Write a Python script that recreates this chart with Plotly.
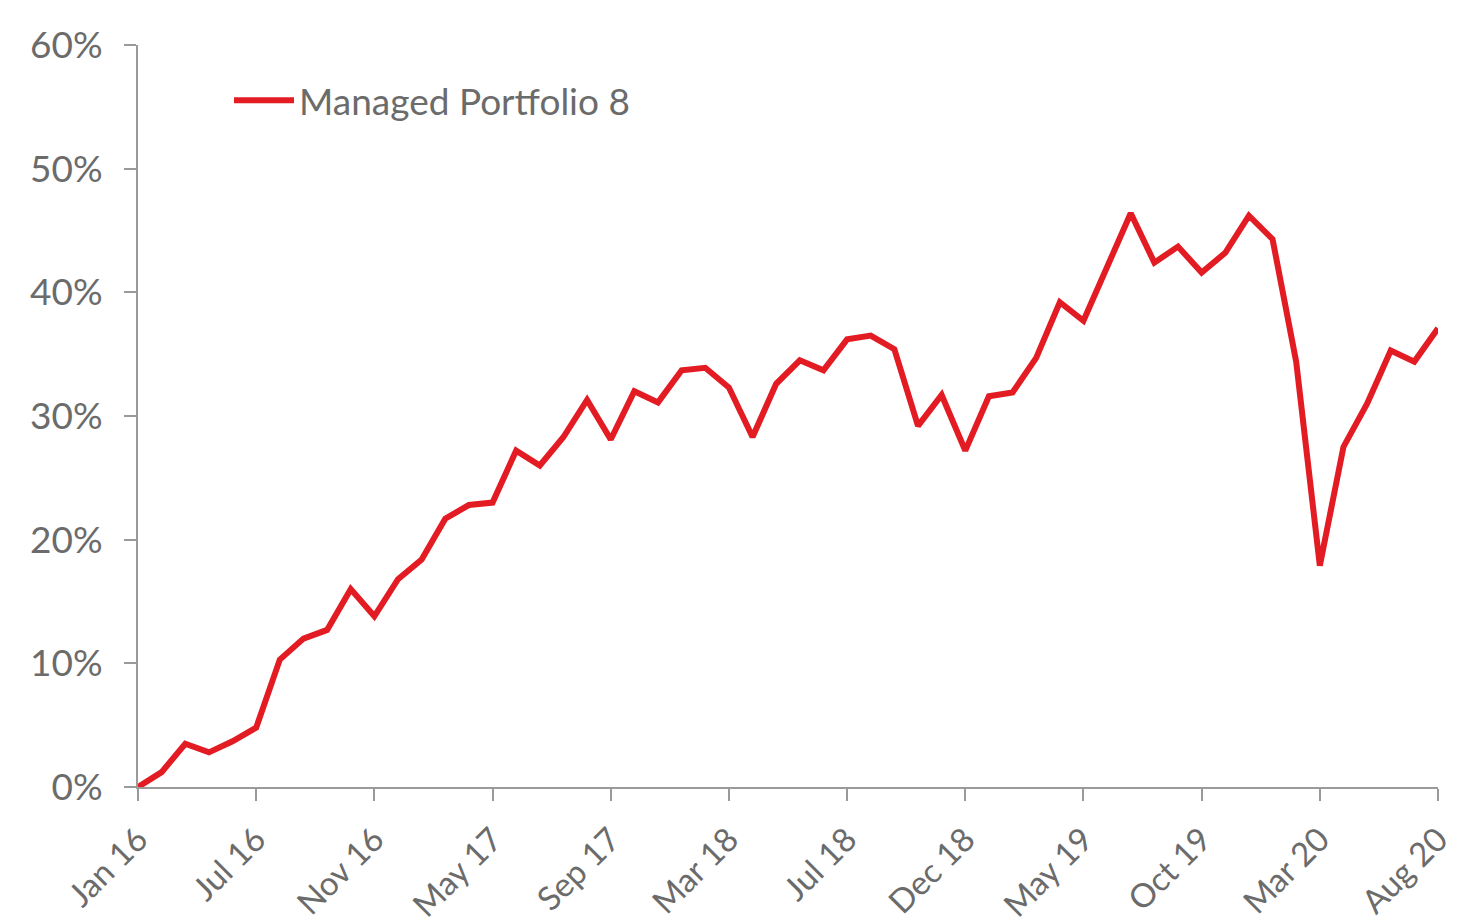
import plotly.graph_objects as go

months = ["Jan 16","Feb 16","Mar 16","Apr 16","May 16","Jun 16","Jul 16","Aug 16","Sep 16","Oct 16","Nov 16","Dec 16",
          "Jan 17","Feb 17","Mar 17","Apr 17","May 17","Jun 17","Jul 17","Aug 17","Sep 17","Oct 17","Nov 17","Dec 17",
          "Jan 18","Feb 18","Mar 18","Apr 18","May 18","Jun 18","Jul 18","Aug 18","Sep 18","Oct 18","Nov 18","Dec 18",
          "Jan 19","Feb 19","Mar 19","Apr 19","May 19","Jun 19","Jul 19","Aug 19","Sep 19","Oct 19","Nov 19","Dec 19",
          "Jan 20","Feb 20","Mar 20","Apr 20","May 20","Jun 20","Jul 20","Aug 20"]
values = [0.0, 1.2, 3.5, 2.8, 3.7, 4.8, 10.3, 12.0, 12.7, 16.0, 13.8, 16.8,
          18.4, 21.7, 22.8, 23.0, 27.2, 26.0, 28.3, 31.3, 28.1, 32.0, 31.1, 33.7,
          33.9, 32.3, 28.3, 32.6, 34.5, 33.7, 36.2, 36.5, 35.4, 29.2, 31.7, 27.2,
          31.6, 31.9, 34.7, 39.2, 37.7, 42.0, 46.4, 42.4, 43.7, 41.6, 43.2, 46.2,
          44.3, 34.4, 17.9, 27.5, 31.0, 35.3, 34.4, 37.1]
tick_idx = [0, 5, 10, 15, 20, 25, 30, 35, 40, 45, 50, 55]
tick_labels = ["Jan 16","Jul 16","Nov 16","May 17","Sep 17","Mar 18","Jul 18","Dec 18","May 19","Oct 19","Mar 20","Aug 20"]
y_ticks = [0, 10, 20, 30, 40, 50, 60]
y_labels = ["0%","10%","20%","30%","40%","50%","60%"]

FONT = "Lato"
GREY_TXT = "#6b6b6b"
AXIS = "#9a9a9a"

fig = go.Figure()
fig.add_trace(go.Scatter(
    x=list(range(len(values))), y=values, mode="lines",
    name="Managed Portfolio 8",
    line=dict(color="#E31B23", width=6),
))

fig.update_layout(
    width=1458, height=923,
    margin=dict(l=138, r=20, t=45, b=136, autoexpand=False),
    paper_bgcolor="white", plot_bgcolor="white",
    font=dict(family=FONT, color=GREY_TXT),
    showlegend=True,
    legend=dict(x=0.07, y=0.925, xanchor="left", yanchor="middle",
                font=dict(size=37, color=GREY_TXT, family=FONT),
                bgcolor="rgba(0,0,0,0)", itemwidth=60),
    xaxis=dict(
        range=[0, len(values) - 1], automargin=False,
        tickmode="array", tickvals=tick_idx, ticktext=tick_labels,
        tickangle=-45, tickfont=dict(size=33, color=GREY_TXT, family=FONT),
        ticks="outside", ticklen=12, tickwidth=2, tickcolor=AXIS,
        ticklabelstandoff=6,
        showline=True, linecolor=AXIS, linewidth=2,
        showgrid=False, zeroline=False,
    ),
    yaxis=dict(
        range=[0, 60], automargin=False,
        tickmode="array", tickvals=y_ticks, ticktext=y_labels,
        tickfont=dict(size=37, color=GREY_TXT, family=FONT),
        ticks="outside", ticklen=12, tickwidth=2, tickcolor=AXIS,
        ticklabelstandoff=14,
        showline=True, linecolor=AXIS, linewidth=2,
        showgrid=False, zeroline=False,
    ),
)

fig.write_html("out.html")
